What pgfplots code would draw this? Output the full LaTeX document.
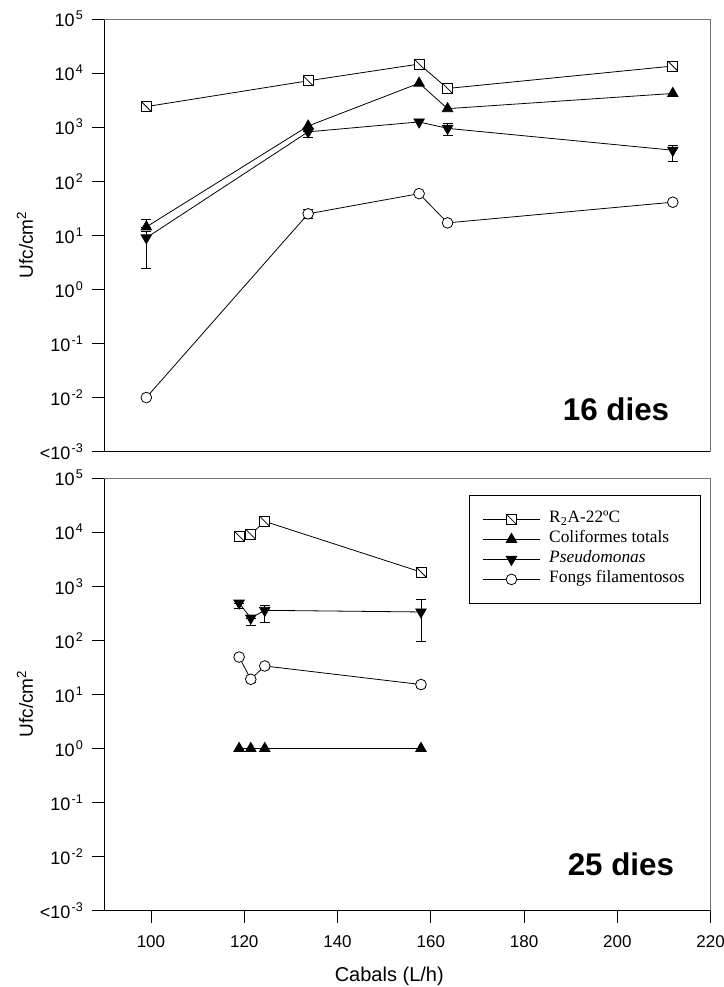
\documentclass[border=0pt]{standalone}
\usepackage{fontspec}
\setmainfont{Liberation Sans}
\newfontfamily\serifleg{Liberation Serif}
\usepackage{pgfplots}
\pgfplotsset{compat=1.18}

\pgfdeclareplotmark{sqdiag}{%
  \pgfpathrectangle{\pgfqpoint{-\pgfplotmarksize}{-\pgfplotmarksize}}{\pgfqpoint{2\pgfplotmarksize}{2\pgfplotmarksize}}%
  \pgfusepathqfillstroke
  \pgfpathmoveto{\pgfqpoint{-\pgfplotmarksize}{\pgfplotmarksize}}%
  \pgfpathlineto{\pgfqpoint{\pgfplotmarksize}{-\pgfplotmarksize}}%
  \pgfusepathqstroke
}

\newcommand{\supx}[1]{\textsuperscript{\hspace{1pt}#1}}

\pgfplotsset{
  myr2a/.style={black, line width=0.6pt, mark=sqdiag, mark size=3.7pt, mark options={fill=white, solid}},
  mycoli/.style={black, line width=0.6pt, mark=triangle*, mark size=4.5pt, mark options={fill=black, solid}},
  mypseudo/.style={black, line width=0.6pt, mark=triangle*, mark size=4.5pt, mark options={fill=black, rotate=180, solid}},
  myfong/.style={black, line width=0.6pt, mark=*, mark size=4pt, mark options={fill=white, solid}},
}

\begin{document}
\begin{tikzpicture}
% ---------- top panel: 16 dies ----------
\begin{axis}[name=top, at={(0pt,344pt)}, xtick=\empty,
    scale only axis, width=454.3pt, height=324.2pt,
    xmin=90, xmax=220, ymode=log, ymin=1e-3, ymax=1e5,
    axis x line*=bottom, axis y line*=left,
    ytick={1e-3,1e-2,1e-1,1,10,100,1000,1e4,1e5},
    yticklabels={{<10\supx{-3}},{10\supx{-2}},{10\supx{-1}},{10\supx{0}},{10\supx{1}},{10\supx{2}},{10\supx{3}},{10\supx{4}},{10\supx{5}}},
    yminorticks=false,
    tick align=outside, major tick length=9pt,
    tick style={black, line width=0.6pt},
    axis line style={black, line width=0.7pt},
    ticklabel style={font=\fontsize{12.75}{15}\selectfont},
    yticklabel style={xshift=-3pt, font=\fontsize{13.5}{16}\selectfont},
    ylabel={Ufc/cm\textsuperscript{2}},
    ylabel style={font=\fontsize{14.25}{17}\selectfont, at={(axis description cs:-0.131,0.478)}, anchor=center},
    clip=false]
\addplot[myr2a] coordinates {(99,2400) (133.7,7200) (157.5,14700) (163.6,5200) (211.9,13500)};
\addplot[mycoli, error bars/.cd, y dir=both, y explicit, error bar style={line width=0.6pt, solid}, error mark options={rotate=90, mark size=3.75pt, line width=0.6pt}]
  coordinates {(99,14.3) += (0,5.7) -= (0,0) (133.7,1050) (157.5,6500) (163.6,2200) (211.9,4200)};
\addplot[mypseudo, error bars/.cd, y dir=both, y explicit, error bar style={line width=0.6pt, solid}, error mark options={rotate=90, mark size=3.75pt, line width=0.6pt}]
  coordinates {(99,9) += (0,3) -= (0,6.6) (133.7,820) += (0,0) -= (0,170) (157.5,1250) (163.6,950) += (0,200) -= (0,240) (211.9,375) += (0,95) -= (0,140)};
\addplot[myfong, error bars/.cd, y dir=both, y explicit, error bar style={line width=0.6pt, solid}, error mark options={rotate=90, mark size=3.75pt, line width=0.6pt}]
  coordinates {(99,0.01) (133.7,25) += (0,5) -= (0,4.6) (157.5,59) (163.6,17) (211.9,41)};
\draw[black!55, line width=0.7pt] (rel axis cs:0,1) -- (rel axis cs:1,1) -- (rel axis cs:1,0);
\node[anchor=base east, font=\fontsize{23.5}{27}\selectfont\bfseries] at (rel axis cs:0.9395,0.0724) {16 dies};
\end{axis}
% ---------- bottom panel: 25 dies ----------
\begin{axis}[name=bot, at={(0pt,0pt)},
    scale only axis, width=454.3pt, height=324.2pt,
    xmin=90, xmax=220, ymode=log, ymin=1e-3, ymax=1e5,
    axis x line*=bottom, axis y line*=left,
    xtick={100,120,140,160,180,200,220},
    ytick={1e-3,1e-2,1e-1,1,10,100,1000,1e4,1e5},
    yticklabels={{<10\supx{-3}},{10\supx{-2}},{10\supx{-1}},{10\supx{0}},{10\supx{1}},{10\supx{2}},{10\supx{3}},{10\supx{4}},{10\supx{5}}},
    yminorticks=false,
    tick align=outside, major tick length=9pt,
    tick style={black, line width=0.6pt},
    axis line style={black, line width=0.7pt},
    ticklabel style={font=\fontsize{12.75}{15}\selectfont},
    yticklabel style={xshift=-3pt, font=\fontsize{13.5}{16}\selectfont},
    xticklabel style={/pgf/number format/assume math mode=true, /pgf/number format/1000 sep={}, yshift=-6pt},
    ylabel={Ufc/cm\textsuperscript{2}},
    ylabel style={font=\fontsize{14.25}{17}\selectfont, at={(axis description cs:-0.131,0.478)}, anchor=center},
    xlabel={Cabals (L/h)},
    xlabel style={font=\fontsize{15}{18}\selectfont, at={(axis description cs:0.470,-0.151)}, anchor=center},
    clip=false,
    legend image code/.code={\draw[mark repeat=2,mark phase=2,#1] plot coordinates {(0pt,0pt) (21.5pt,0pt) (43pt,0pt)};},
    legend style={at={(rel axis cs:0.602,0.961)}, anchor=north west, draw=black, line width=0.6pt,
      font=\serifleg\fontsize{13}{15}\selectfont, inner xsep=9.5pt, inner ysep=10.5pt, row sep=0pt, column sep=4.5pt,
      nodes={inner sep=2pt, text height=8pt, text depth=3pt}},
    legend cell align=left]
\addplot[myr2a] coordinates {(118.9,8470) (121.4,9100) (124.4,15800) (157.9,1830)};
\addlegendentry{R\textsubscript{2}A-22ºC}
\addplot[mycoli] coordinates {(118.9,1) (121.4,1) (124.4,1) (157.9,1)};
\addlegendentry{Coliformes totals}
\addplot[mypseudo, error bars/.cd, y dir=both, y explicit, error bar style={line width=0.6pt, solid}, error mark options={rotate=90, mark size=3.75pt, line width=0.6pt}]
  coordinates {(118.9,489) += (0,0) -= (0,104) (121.4,258) += (0,0) -= (0,68) (124.4,358) += (0,82) -= (0,145) (157.9,334) += (0,231) -= (0,238)};
\addlegendentry{\textit{Pseudomonas}}
\addplot[myfong, error bars/.cd, y dir=both, y explicit, error bar style={line width=0.6pt, solid}, error mark options={rotate=90, mark size=3.75pt, line width=0.6pt}]
  coordinates {(118.9,49) += (0,5) -= (0,5) (121.4,19) += (0,2) -= (0,2) (124.4,33.5) += (0,3) -= (0,3) (157.9,15.2) += (0,1.5) -= (0,1.5)};
\addlegendentry{Fongs filamentosos}
\draw[black!55, line width=0.7pt] (rel axis cs:0,1) -- (rel axis cs:1,1) -- (rel axis cs:1,0);
\node[anchor=base east, font=\fontsize{23.5}{27}\selectfont\bfseries] at (rel axis cs:0.9476,0.0824) {25 dies};
\end{axis}
\pgfresetboundingbox
\path[use as bounding box] (-78.2pt,-57.2pt) rectangle (464.05pt,682.45pt);
\end{tikzpicture}
\end{document}
